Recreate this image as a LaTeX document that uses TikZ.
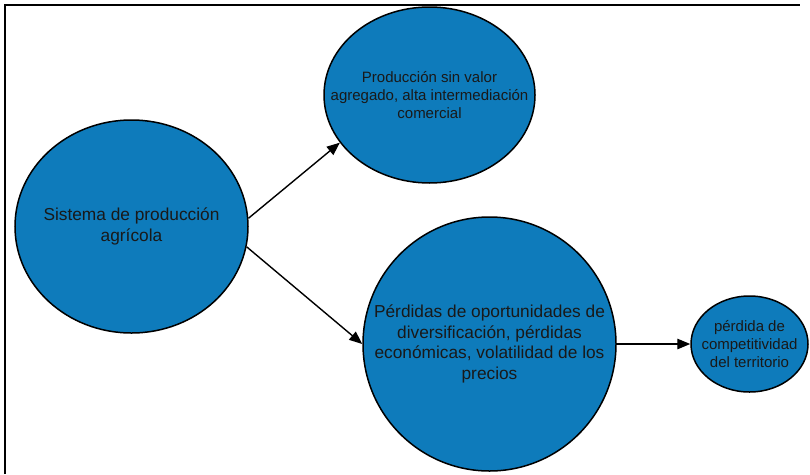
\documentclass[tikz,border=0pt]{standalone}
\usepackage{fontspec}
\setmainfont{Liberation Sans}
\usetikzlibrary{shapes.geometric,arrows.meta}
\definecolor{blobblue}{RGB}{14,123,187}
\tikzset{
  blob/.style={ellipse, draw=black, line width=1.5pt, fill=blobblue, inner sep=0pt},
  bigtxt/.style={align=center, font=\fontsize{17.3}{20.8}\selectfont, inner sep=0pt, text=black!90},
  smalltxt/.style={align=center, font=\fontsize{15}{18.2}\selectfont, inner sep=0pt, text=black!90},
  link/.style={line width=1.4pt, -{Triangle[length=13pt,width=10.5pt]}},
  frameline/.style={line width=2.2pt}
}
\begin{document}
\begin{tikzpicture}[x=1pt, y=-1pt]
\useasboundingbox (0,0) rectangle (810,474);
\coordinate (fa) at (5,474);
\coordinate (fb) at (5,5);
\coordinate (fc) at (800,5);
\draw[frameline] (fa) -- (fb) -- (fc);

\node[blob, minimum width=233pt, minimum height=213pt] (sys) at (131.5,226.5) {};
\node[blob, minimum width=211pt, minimum height=176pt] (prod) at (429.5,95) {};
\node[blob, minimum width=253pt, minimum height=254pt] (perd) at (489.5,344) {};
\node[blob, minimum width=117pt, minimum height=96pt] (comp) at (749.5,344) {};

\node[bigtxt] (tsys) at (sys) {Sistema de producción\\agrícola};
\node[smalltxt] (tprod) at (prod) {Producción sin valor\\agregado, alta intermediación\\comercial};
\node[bigtxt] (tperd) at (perd) {Pérdidas de oportunidades de\\diversificación, pérdidas\\económicas, volatilidad de los\\precios};
\node[smalltxt] (tcomp) at (comp) {pérdida de\\competitividad\\del territorio};

\draw[link] (sys.4) -- (prod.208);
\draw[link] (sys.-10) -- (perd.180);
\draw[link] (perd.0) -- (comp.180);
\end{tikzpicture}
\end{document}
